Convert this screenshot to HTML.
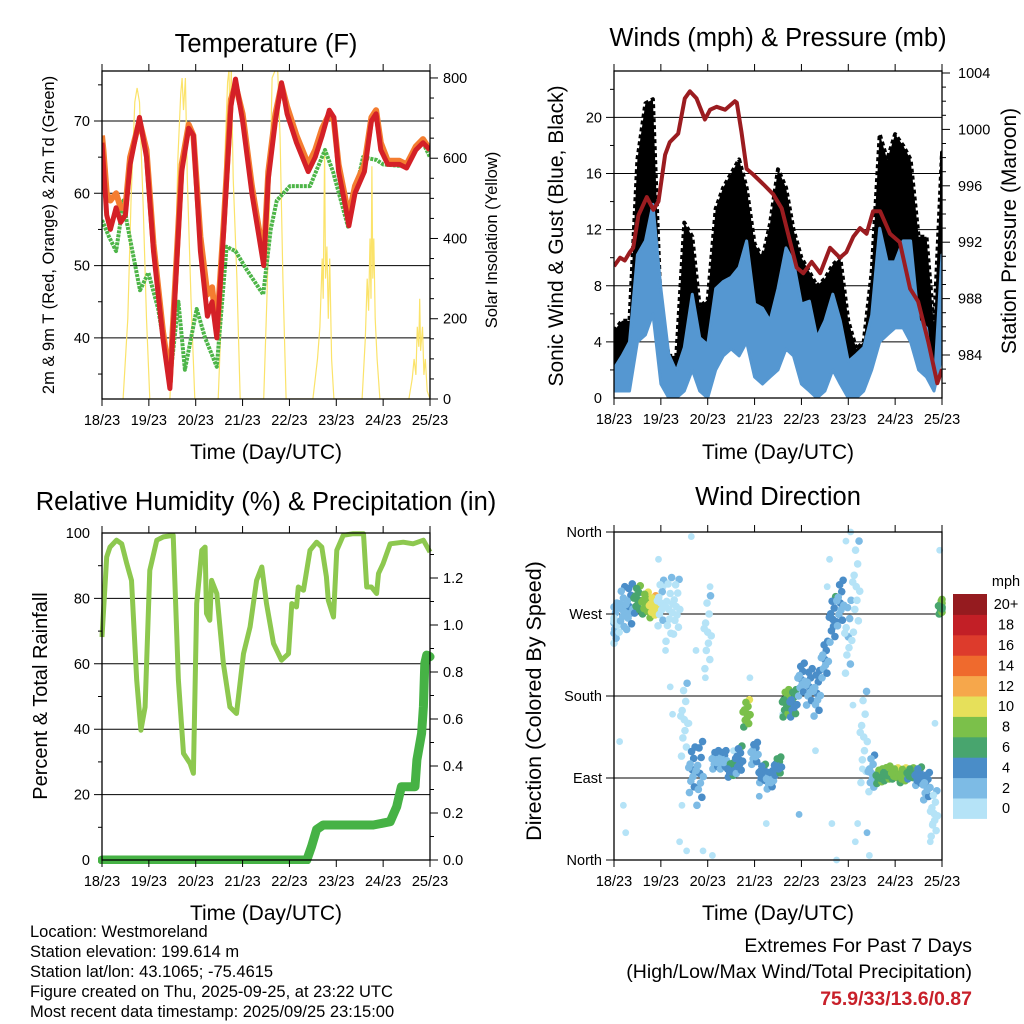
<!DOCTYPE html>
<html><head><meta charset="utf-8">
<style>
html,body{margin:0;padding:0;background:#fff;}
svg{display:block;font-family:"Liberation Sans",Arial,sans-serif;}
</style></head>
<body>
<svg id="root" width="1024" height="1024" viewBox="0 0 1024 1024" xmlns="http://www.w3.org/2000/svg">
<defs>
<clipPath id="c1"><rect x="102" y="71" width="328" height="328"/></clipPath>
<clipPath id="c2"><rect x="614" y="71" width="328" height="327"/></clipPath>
<clipPath id="c3"><rect x="98" y="528" width="340" height="336"/></clipPath>
<clipPath id="c4"><rect x="610" y="528" width="340" height="336"/></clipPath>
</defs>
<text x="266" y="52" font-size="25.5" text-anchor="middle">Temperature (F)</text>
<text x="778" y="46" font-size="25.5" text-anchor="middle">Winds (mph) &amp; Pressure (mb)</text>
<text x="266" y="510" font-size="25.5" text-anchor="middle">Relative Humidity (%) &amp; Precipitation (in)</text>
<text x="778" y="505" font-size="25.5" text-anchor="middle">Wind Direction</text>
<text x="266" y="459" font-size="21" text-anchor="middle">Time (Day/UTC)</text>
<text x="778" y="459" font-size="21" text-anchor="middle">Time (Day/UTC)</text>
<text x="266" y="920" font-size="21" text-anchor="middle">Time (Day/UTC)</text>
<text x="778" y="920" font-size="21" text-anchor="middle">Time (Day/UTC)</text>
<text transform="translate(54,235) rotate(-90)" font-size="16.5" text-anchor="middle">2m &amp; 9m T (Red, Orange) &amp; 2m Td (Green)</text>
<text transform="translate(497,240) rotate(-90)" font-size="16.5" text-anchor="middle">Solar Insolation (Yellow)</text>
<text transform="translate(563,236) rotate(-90)" font-size="21" text-anchor="middle">Sonic Wind &amp; Gust (Blue, Black)</text>
<text transform="translate(1016,231) rotate(-90)" font-size="21" text-anchor="middle">Station Pressure (Maroon)</text>
<text transform="translate(47,696) rotate(-90)" font-size="20" text-anchor="middle">Percent &amp; Total Rainfall</text>
<text transform="translate(541,701) rotate(-90)" font-size="21.5" text-anchor="middle">Direction (Colored By Speed)</text>
<g font-size="16.5">
<text x="30" y="937">Location: Westmoreland</text>
<text x="30" y="957">Station elevation: 199.614 m</text>
<text x="30" y="977">Station lat/lon: 43.1065; -75.4615</text>
<text x="30" y="997">Figure created on Thu, 2025-09-25, at 23:22 UTC</text>
<text x="30" y="1017">Most recent data timestamp: 2025/09/25 23:15:00</text>
</g>
<g font-size="19.5" text-anchor="end">
<text x="972" y="952">Extremes For Past 7 Days</text>
<text x="972" y="978">(High/Low/Max Wind/Total Precipitation)</text>
<text x="972" y="1005" fill="#c8202a" font-weight="bold">75.9/33/13.6/0.87</text>
</g>
<g id="g"></g>
</svg>
<script>
// ---------- data ----------
const dayLabels=["18/23","19/23","20/23","21/23","22/23","23/23","24/23","25/23"];
const redT=[0,0.03,0.1,0.18,0.3,0.4,0.5,0.6,0.8,0.95,1.1,1.3,1.45,1.55,1.7,1.85,1.95,2.1,2.25,2.35,2.45,2.6,2.75,2.85,3.0,3.2,3.35,3.45,3.55,3.7,3.83,3.95,4.15,4.4,4.55,4.7,4.85,4.95,5.05,5.2,5.27,5.4,5.6,5.75,5.85,5.95,6.1,6.35,6.5,6.7,6.85,7];
const redV=[67,64,57,55,58,56,57,64,70.5,65,52,40,33,45,63,69,68,52,43,45,40,55,72,75.8,70,60,54,50,62,70,75.3,71,67,63,65,68,71.5,70.5,63,58,55.5,60,63,70,71,66,64,64,63.5,66,67,66];
const orangeV=[68,66,60,59,60,58,58,65,70,66,53,41,34,46,64,69.5,68,54,46,47,41,56,73,75,71,61,55,51,63,71,75,72,68,64,66,69,71,70,64,59,57,61,64,70.5,71.5,67,64.5,64.5,64,66.5,67.5,66];
const dewT=[0,0.15,0.3,0.46,0.53,0.81,0.99,1.2,1.45,1.63,1.77,2.02,2.2,2.45,2.66,2.85,3.09,3.44,3.6,3.73,4.01,4.44,4.76,4.93,5.25,5.57,5.86,6.0,6.5,6.82,7];
const dewV=[56.3,54,52,59,56,46.6,49,44,34,45,35.6,44,40,36,52.6,52,49.4,46,55,59,61,61,66,63,55.4,65,64.6,64,63.7,67.4,65];
const solT=[0.45,0.55,0.62,0.7,0.75,0.8,0.88,0.95,1.02,1.45,1.55,1.62,1.68,1.71,1.74,1.78,1.82,1.9,1.98,2.48,2.56,2.62,2.68,2.71,2.73,2.76,2.8,2.88,2.95,3.45,3.52,3.58,3.63,3.7,3.75,3.8,3.86,3.93,4.5,4.6,4.65,4.7,4.72,4.75,4.77,4.8,4.83,4.86,4.9,4.95,5.55,5.62,5.66,5.69,5.72,5.74,5.76,5.78,5.8,5.83,5.87,5.93,6.55,6.62,6.66,6.7,6.73,6.76,6.78,6.8,6.84,6.87,6.9,6.94,7.0];
const solV=[0,200,500,740,775,740,480,200,0,0,250,600,760,800,720,800,550,250,0,0,250,600,790,820,700,820,550,300,0,0,250,500,800,820,820,650,300,0,0,100,180,350,250,620,300,380,200,350,100,0,0,150,300,220,400,250,580,300,400,200,100,0,0,50,100,60,180,130,250,120,180,60,100,20,0];
const pT=[0,0.13,0.23,0.34,0.41,0.52,0.70,0.84,0.95,1.09,1.19,1.37,1.51,1.62,1.76,1.94,2.05,2.19,2.37,2.58,2.62,2.72,2.83,2.97,3.19,3.40,3.58,3.76,3.90,4.04,4.22,4.40,4.61,4.82,4.96,5.11,5.25,5.39,5.53,5.68,5.89,6.10,6.32,6.49,6.71,6.90,7.0];
const pV=[990.3,990.9,990.7,991.3,991.6,993.9,995.2,994.3,994.9,998.2,999.1,999.7,1002.2,1002.7,1002.2,1000.7,1001.4,1001.6,1001.4,1002.0,1001.9,999.8,997.2,996.8,996.1,995.4,994.4,992.0,990.2,989.8,990.6,989.8,991.6,990.9,991.3,992.4,993.0,992.6,994.2,994.2,992.6,992.0,988.7,987.8,984.9,982.0,983.0];
const windT=[0,0.17,0.33,0.5,0.67,0.83,1.0,1.17,1.33,1.5,1.67,1.83,2.0,2.17,2.33,2.5,2.67,2.83,3.0,3.17,3.33,3.5,3.67,3.83,4.0,4.17,4.33,4.5,4.67,4.83,5.0,5.17,5.33,5.5,5.67,5.83,6.0,6.17,6.33,6.5,6.67,6.83,7.0];
const windHigh=[2.1,3,4,10.2,11.2,13.8,7.8,3.1,1.9,3.6,7.4,4.3,3.8,7.8,8.3,8.6,9.3,11.2,6.7,6.4,5.5,7.8,10.7,9.7,6.7,6.9,4.3,5.5,7.4,5.5,2.6,3.1,3.6,5.9,12.1,9.7,9.7,11.2,11.2,5.5,5,0.7,10.2];
const windLow=[0.5,0.5,0.5,4,4.5,6,1,0,0,0.5,2,0.5,0,2,3,3.5,3,4,1.5,1,1.5,2,3.5,3,1,0.5,0,0.5,2,1,0,0,0.5,2,4,4.5,5,5,4,2,1.5,0.5,3];
const gustHigh=[4.8,5.5,5.5,17,21,21.3,6,3,3,12.5,11.5,6.5,7,13.5,15,16,17,15,11,10,12.4,16.3,15,12,10,9,8,8.5,9.5,10,5.5,3.5,4,9,18.8,17,18.8,18,17,11.5,11.5,5,17.5];
const gustLow=[1,1.5,1.5,5,6,8,2,0.5,0.5,1,3,1,0.5,3,4,4.5,4,5,2,2,2,3,5,4,2,1,0.5,1,3,2,0.5,0.5,1,3,6,6,6.5,6.5,5,3,2,1,4];
const rhT=[0,0.1,0.17,0.31,0.42,0.53,0.63,0.74,0.83,0.92,1.02,1.17,1.31,1.52,1.63,1.74,1.88,1.95,2.02,2.13,2.2,2.23,2.3,2.34,2.45,2.59,2.73,2.87,3.02,3.16,3.3,3.41,3.51,3.66,3.83,3.98,4.05,4.15,4.19,4.3,4.44,4.58,4.69,4.79,4.83,4.94,5.01,5.15,5.36,5.58,5.65,5.75,5.86,5.9,6.0,6.15,6.43,6.64,6.86,7.0];
const rhV=[68.2,92.7,95.7,97.8,96.7,90.6,85.5,55,39.7,46.8,88.6,97.8,98.8,99.3,55,32.6,29.5,26.5,78.4,94.7,95.7,75.4,73.3,85.5,81.5,60,46.8,44.8,63.1,71.3,85.5,89.6,78.4,66.2,61.1,63.1,78.4,77.4,83.5,82.5,94.7,97.2,95.7,86.6,79.4,74.3,94.7,99.3,99.8,99.8,83.5,83.5,81.5,87.6,90.6,96.7,97.2,96.7,97.8,94.2];
const prT=[0,4.37,4.47,4.58,4.72,5.79,6.15,6.29,6.39,6.68,6.72,6.82,6.86,6.89,6.93,7.0];
const prV=[0,0,0.057,0.13,0.149,0.149,0.163,0.227,0.312,0.312,0.426,0.539,0.652,0.837,0.872,0.865];
const dirT=[0,0.17,0.33,0.5,0.67,0.83,1.0,1.17,1.33,1.5,1.67,1.83,2.0,2.17,2.33,2.5,2.67,2.83,3.0,3.17,3.33,3.5,3.67,3.83,4.0,4.17,4.33,4.5,4.67,4.83,5.0,5.17,5.33,5.5,5.67,5.83,6.0,6.17,6.33,6.5,6.67,6.83,7.0];
const dirMean=[260,275,278,286,282,278,282,275,278,154,99,95,250,110,110,99,110,161,117,95,88,103,172,172,198,190,183,220,264,282,245,300,135,95,92,95,95,93,95,92,81,51,278];
const dirSpread=[22,25,25,15,12,12,25,35,30,40,25,35,40,10,10,8,15,15,12,10,10,10,15,15,18,20,25,20,25,25,40,50,50,20,8,8,6,8,6,10,15,25,8];
const dirSpeed=[2.5,3,4,7,9,11,1.5,1,1,1,4,4,1,4,4,6,5,9,4,5,4,6,8,6,4,4,4,4,5,4,2,1,1,3,8,8,9,9,7,5,4,1,8];
const outT=[0.12,0.2,0.25,0.95,1.05,1.1,1.2,1.25,1.4,1.45,1.55,1.6,1.65,1.75,1.9,1.95,2.05,2.1,2.55,2.9,3.1,3.25,3.6,3.95,4.3,4.45,4.55,4.6,4.65,4.75,4.95,5.05,5.1,5.15,5.2,5.3,5.4,5.45,6.75,6.8,6.85,6.95];
const outD=[130,60,30,330,300,230,190,160,20,60,10,150,355,230,10,200,300,5,120,200,70,40,160,50,120,210,300,330,40,0,350,360,170,20,40,100,30,5,20,40,150,340];
const outS=[1,0,1,0,1,0,1,0,1,0,1,0,1,0,1,0,1,0,1,1,2,1,0,2,1,0,1,0,1,0,1,0,1,1,0,1,2,1,1,0,1,0];
const dirNames=["North","East","South","West","North"];
const cbLabels=["0","2","4","6","8","10","12","14","16","18","20+"];
const cbColors=["#b5e3f7","#7dbbe5","#4a8dc8","#48a56e","#7bc04a","#e6e05a","#f6a74b","#ef6a2d","#dd3b2c","#c21f26","#951b1f"];

const NS="http://www.w3.org/2000/svg";
const G=document.getElementById('g');
function mk(tag,attrs,parent){const e=document.createElementNS(NS,tag);for(const k in attrs)e.setAttribute(k,attrs[k]);(parent||G).appendChild(e);return e;}
const x1=t=>102+t*328/7, yT=v=>121+(70-v)*7.23, yS=w=>399-w*0.4013;
const x2=t=>614+t*328/7, yW=v=>398-v*14.03, yP=p=>355-(p-984)*14.1;
const x3=t=>102+t*328/7, yR=v=>860-v*3.27, yPr=v=>860-v*235;
const x4=x2, yD=d=>860-d*328/360;
function pts(T,V,fx,fy){return T.map((t,i)=>fx(t).toFixed(1)+","+fy(V[i]).toFixed(1)).join(" ");}
function band(T,H,L,fx,fy){let a=T.map((t,i)=>fx(t).toFixed(1)+","+fy(H[i]).toFixed(1));let b=T.map((t,i)=>fx(t).toFixed(1)+","+fy(L[i]).toFixed(1)).reverse();return a.concat(b).join(" ");}

function frame(x0,y0,x1_,y1_,name){
  const r=mk('rect',{x:x0,y:y0,width:x1_-x0,height:y1_-y0,fill:'none',stroke:'#000','stroke-width':1.3});
  
  
}
function grid(y,x0,x1_,name){
  const l=mk('line',{x1:x0-8,x2:x1_,y1:y,y2:y,stroke:'#000','stroke-width':1});
  
  
}
function xAxis(fx,y0,y1_,name){
  for(let i=0;i<8;i++){
    const x=fx(i);
    mk('line',{x1:x,x2:x,y1:y0,y2:y0-7,stroke:'#000','stroke-width':1});
    mk('line',{x1:x,x2:x,y1:y1_,y2:y1_+7,stroke:'#000','stroke-width':1});
    const t=mk('text',{x:x,y:y1_+26,'font-size':14.5,'text-anchor':'middle'});
    t.textContent=dayLabels[i];
    
    
  }
}
function rightTicks(x,y0,y1_,fy,vals,labels,minor,name,lx){
  minor.forEach(v=>{const y=fy(v);if(y>=y0-1&&y<=y1_+1)mk('line',{x1:x,x2:x+4,y1:y,y2:y,stroke:'#000','stroke-width':1});});
  vals.forEach((v,i)=>{const y=fy(v);mk('line',{x1:x,x2:x+8,y1:y,y2:y,stroke:'#000','stroke-width':1});
    const t=mk('text',{x:lx,y:y+5,'font-size':14.5});t.textContent=labels[i];
    
    });
}
function leftLabels(x,fy,vals,labels,name,minor,y0,y1_){
  if(minor)minor.forEach(v=>{const y=fy(v);if(y>=y0-1&&y<=y1_+1)mk('line',{x1:x-4,x2:x,y1:y,y2:y,stroke:'#000','stroke-width':1});});
  vals.forEach((v,i)=>{const y=fy(v);
    const t=mk('text',{x:x-12,y:y+5,'font-size':14.5,'text-anchor':'end'});t.textContent=labels[i];
    
    });
}

// panel 1
[40,50,60,70].forEach(v=>grid(yT(v),102,430,'temp-gridline'));
const g1=mk('g',{'clip-path':'url(#c1)'});
const sol=mk('polyline',{points:pts(solT,solV,x1,yS),fill:'none',stroke:'#fbe36a','stroke-width':1.2},g1);


const dew=mk('polyline',{points:pts(dewT,dewV,x1,yT),fill:'none',stroke:'#4db548','stroke-width':4,'stroke-dasharray':'3 1','stroke-linejoin':'round'},g1);


const orl=mk('polyline',{points:pts(redT,orangeV,x1,yT),fill:'none',stroke:'#f47d30','stroke-width':6,'stroke-linejoin':'round'},g1);


const rdl=mk('polyline',{points:pts(redT,redV,x1,yT),fill:'none',stroke:'#d42027','stroke-width':5,'stroke-linejoin':'round'},g1);


frame(102,71,430,399,'temp');
xAxis(x1,71,399,'temp-x');
leftLabels(102,yT,[40,50,60,70],["40","50","60","70"],'temp-y',[35,45,55,65,75],71,399);
rightTicks(430,71,399,yS,[0,200,400,600,800],["0","200","400","600","800"],[50,100,150,250,300,350,450,500,550,650,700,750],'solar-y',443);

// panel 2
[4,8,12,16,20].forEach(v=>grid(yW(v),614,942,'wind-gridline'));
const g2=mk('g',{'clip-path':'url(#c2)'});
const gb=mk('polygon',{points:band(windT,gustHigh,gustLow,x2,yW),fill:'#000',stroke:'#000','stroke-width':4,'stroke-dasharray':'4 3','stroke-linejoin':'round'},g2);


const wb=mk('polygon',{points:band(windT,windHigh,windLow,x2,yW),fill:'#5597d1',stroke:'#5597d1','stroke-width':3,'stroke-linejoin':'round'},g2);


const pl=mk('polyline',{points:pts(pT,pV,x2,yP),fill:'none',stroke:'#9b1c20','stroke-width':4,'stroke-linejoin':'round'},g2);


frame(614,71,942,398,'winds');
xAxis(x2,71,398,'winds-x');
leftLabels(614,yW,[0,4,8,12,16,20],["0","4","8","12","16","20"],'wind-y',[2,6,10,14,18,22],71,398);
rightTicks(942,71,398,yP,[984,988,992,996,1000,1004],["984","988","992","996","1000","1004"],[982,983,985,986,987,989,990,991,993,994,995,997,998,999,1001,1002,1003],'pressure-y',958);

// panel 3
[20,40,60,80].forEach(v=>grid(yR(v),102,430,'rh-gridline'));
const g3=mk('g',{'clip-path':'url(#c3)'});
const rh=mk('polyline',{points:pts(rhT,rhV,x3,yR),fill:'none',stroke:'#8dc84f','stroke-width':5,'stroke-linejoin':'round'},g3);


const pr=mk('polyline',{points:pts(prT,prV,x3,yPr),fill:'none',stroke:'#46b245','stroke-width':9,'stroke-linejoin':'round','stroke-linecap':'round'},g3);


frame(102,533,430,860,'humidity');
xAxis(x3,533,860,'rh-x');
leftLabels(102,yR,[0,20,40,60,80,100],["0","20","40","60","80","100"],'rh-y',[10,30,50,70,90],533,860);
rightTicks(430,533,860,yPr,[0,0.2,0.4,0.6,0.8,1.0,1.2],["0.0","0.2","0.4","0.6","0.8","1.0","1.2"],[0.1,0.3,0.5,0.7,0.9,1.1,1.3],'precip-y',443);

// panel 4
[90,180,270].forEach(v=>grid(yD(v),614,942,'dir-gridline'));
const g4=mk('g',{'clip-path':'url(#c4)'});
function colorFor(s){let i=Math.floor(s/2);if(i<0)i=0;if(i>10)i=10;return cbColors[i];}
const subDt=[-0.06,-0.03,0,0.03,0.06,-0.045,0.045,-0.015,0.015,-0.075,0.075];
const subDd=[-1,-0.5,0,0.5,1,0.25,-0.75,0.8,-0.3,0.1,-0.1];
const subDs=[-1.5,-0.5,0,0.5,1,-1,0.8,0.3,-0.3,-1,-0.8];
outT.forEach((t,i)=>{
  const c=mk('circle',{cx:x4(t),cy:yD(outD[i]),r:3.4,fill:colorFor(outS[i])},g4);
  
  
});
dirT.forEach((t,i)=>{
  for(let k=0;k<subDt.length;k++){
    const d=dirMean[i]+subDd[k]*dirSpread[i];
    const c=mk('circle',{cx:x4(Math.min(7,Math.max(0,t+subDt[k]))),cy:yD(d),r:3.8,fill:colorFor(dirSpeed[i]+subDs[k])},g4);
    
    
  }
});
frame(614,532,942,860,'direction');
xAxis(x4,532,860,'dir-x');
leftLabels(614,yD,[0,90,180,270,360],dirNames,'dir-y',null,532,860);
[0,90,180,270,360].forEach(v=>mk('line',{x1:606,x2:614,y1:yD(v),y2:yD(v),stroke:'#000','stroke-width':1}));
const cbTop=594,cbH=20.4;
cbColors.forEach((c,i)=>{
  const y=cbTop+(10-i)*cbH;
  const r=mk('rect',{x:953,y:y,width:34,height:cbH+0.5,fill:c});
  
  
  const t=mk('text',{x:1006,y:y+cbH/2+5,'font-size':14.5,'text-anchor':'middle'});
  t.textContent=cbLabels[i];
  
  
});
const mph=mk('text',{x:1006,y:586,'font-size':14.5,'text-anchor':'middle'});
mph.textContent='mph';


</script>
</body></html>
